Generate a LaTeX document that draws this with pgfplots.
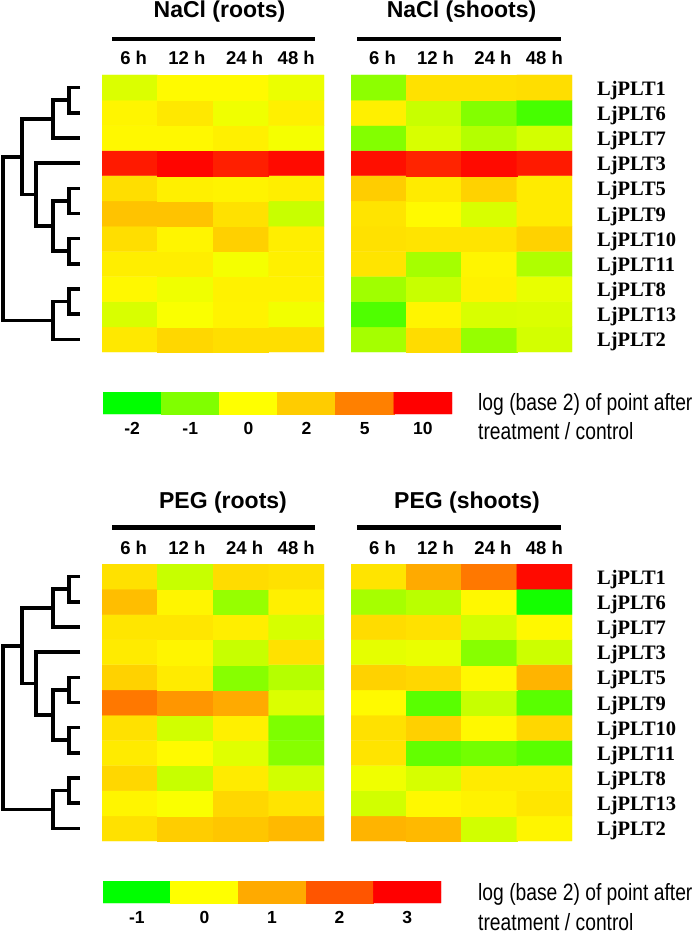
\documentclass[border=0pt]{standalone}
\usepackage{fontspec}
\setmainfont{Liberation Sans}
\newfontfamily\timesfont{Liberation Serif}
\usepackage{graphicx}
\usepackage{pgfplots}
\pgfplotsset{compat=1.18}

\newcommand{\titlefont}{\fontsize{23}{26}\selectfont\bfseries}
\newcommand{\timefont}{\fontsize{18.5}{21}\selectfont\bfseries}
\newcommand{\genefont}{\fontsize{20.5}{23}\selectfont\timesfont\bfseries}
\newcommand{\cbfont}{\fontsize{17.5}{19}\selectfont\bfseries}
\newcommand{\legfont}{\fontsize{23.5}{26}\selectfont}

\pgfplotsset{
  colormap={nacl}{rgb255(0pt)=(0,255,0) rgb255(1pt)=(128,255,0) rgb255(2pt)=(255,255,0) rgb255(4pt)=(255,204,0) rgb255(7pt)=(255,128,0) rgb255(12pt)=(255,0,0)},
  colormap={peg}{rgb255(0pt)=(0,255,0) rgb255(1pt)=(255,255,0) rgb255(2pt)=(255,170,0) rgb255(3pt)=(255,85,0) rgb255(4pt)=(255,0,0)},
  heat/.style={
    scale only axis, height=277pt, anchor=north west,
    xmin=-0.5, xmax=3.5, ymin=-0.5, ymax=10.5,
    axis line style={draw=none}, major tick length=0pt,
    xtick={0.07,1.03,2.07,3.0}, xticklabels={6 h,12 h,24 h,48 h},
    xticklabel pos=upper,
    xticklabel style={anchor=base, yshift=10pt, inner sep=0pt, font=\timefont},
    ytick=\empty,
  },
  genes/.style={
    ytick={0,...,10},
    yticklabels={LjPLT2,LjPLT13,LjPLT8,LjPLT11,LjPLT10,LjPLT9,LjPLT5,LjPLT3,LjPLT7,LjPLT6,LjPLT1},
    yticklabel pos=right,
    yticklabel style={anchor=base west, xshift=25pt, yshift=-7.5pt, inner sep=0pt, font=\genefont},
  },
  nacl/.style={colormap name=nacl, point meta min=-2, point meta max=10},
  peg/.style={colormap name=peg, point meta min=-1, point meta max=3},
  dendro/.style={
    scale only axis, anchor=north west, width=80pt, height=277pt,
    xmin=0, xmax=80, ymin=-277.2, ymax=0, hide axis, clip=false,
  },
  cbar/.style={
    scale only axis, anchor=north west, height=22pt,
    ymin=-0.5, ymax=1.5, ytick=\empty,
    axis line style={draw=none}, major tick length=0pt,
    xticklabel style={anchor=base, yshift=-20pt, inner sep=0pt, font=\cbfont},
  },
}

% dendrogram (same topology for both panels), x and y in px from the heatmap top
\newcommand{\dendrogram}{%
  \addplot[black, line width=3.6pt] coordinates {(80,-12.6) (69,-12.6) (69,-37.8) (80,-37.8)};
  \addplot[black, line width=3.6pt] coordinates {(69,-25.2) (53,-25.2) (53,-63) (80,-63)};
  \addplot[black, line width=3.6pt] coordinates {(80,-113.4) (69,-113.4) (69,-138.6) (80,-138.6)};
  \addplot[black, line width=3.6pt] coordinates {(80,-163.8) (69,-163.8) (69,-189) (80,-189)};
  \addplot[black, line width=3.6pt] coordinates {(69,-126) (53,-126) (53,-176.4) (69,-176.4)};
  \addplot[black, line width=3.6pt] coordinates {(80,-88.2) (36,-88.2) (36,-151.2) (53,-151.2)};
  \addplot[black, line width=3.6pt] coordinates {(53,-44.1) (22,-44.1) (22,-119.7) (36,-119.7)};
  \addplot[black, line width=3.6pt] coordinates {(80,-214.2) (69,-214.2) (69,-239.4) (80,-239.4)};
  \addplot[black, line width=3.6pt] coordinates {(69,-226.8) (53,-226.8) (53,-264.6) (80,-264.6)};
  \addplot[black, line width=3.6pt] coordinates {(22,-81.9) (3,-81.9) (3,-245.7) (53,-245.7)};
}

\begin{document}
\begin{tikzpicture}
\useasboundingbox (0,0) rectangle (699pt,-934pt);

% ================= NaCl =================
\node[anchor=base, font=\titlefont] at (219.5pt,-18pt) {NaCl (roots)};
\node[anchor=base, font=\titlefont] at (461.5pt,-18pt) {NaCl (shoots)};
\draw[line width=4.6pt] (112pt,-39pt) -- (315pt,-39pt);
\draw[line width=4.6pt] (357pt,-39pt) -- (561pt,-39pt);

\begin{axis}[dendro, at={(0pt,-75pt)}]
\dendrogram
\end{axis}

% rows: y=10 LjPLT1 (top) ... y=0 LjPLT2 (bottom); x: 0=6h 1=12h 2=24h 3=48h
\begin{axis}[heat, nacl, width=222pt, at={(102pt,-75pt)}]
\addplot[matrix plot*, mesh/cols=4, point meta=explicit] table[meta=c] {
x y c
0 0 0.90
1 0 1.57
2 0 1.29
3 0 1.29
0 1 -0.31
1 1 -0.04
2 1 0.47
3 1 -0.10
0 2 0.27
1 2 -0.12
2 2 0.51
3 2 0.51
0 3 0.67
1 3 0.67
2 3 -0.08
3 3 0.59
0 4 1.29
1 4 0.39
2 4 1.84
3 4 0.67
0 5 2.36
1 5 2.36
2 5 1.18
3 5 -0.43
0 6 1.29
1 6 0.59
2 6 0.47
3 6 0.67
0 7 9.0
1 7 9.8
2 7 8.8
3 7 9.6
0 8 0.27
1 8 0.27
2 8 0.59
3 8 -0.08
0 9 0.39
1 9 0.90
2 9 -0.12
3 9 0.59
0 10 -0.28
1 10 0.20
2 10 0.20
3 10 -0.16
};
\end{axis}

\begin{axis}[heat, nacl, genes, width=221pt, at={(351pt,-75pt)}]
\addplot[matrix plot*, mesh/cols=4, point meta=explicit] table[meta=c] {
x y c
0 0 -0.71
1 0 1.37
2 0 -0.83
3 0 -0.35
0 1 -1.38
1 1 0.39
2 1 -0.31
3 1 -0.28
0 2 -0.75
1 2 -0.43
2 2 0.51
3 2 -0.18
0 3 1.06
1 3 -0.71
2 3 0.39
3 3 -0.63
0 4 1.18
1 4 1.06
2 4 1.06
3 4 1.76
0 5 1.06
1 5 0.20
2 5 -0.31
3 5 0.78
0 6 1.96
1 6 0.78
2 6 1.76
3 6 0.78
0 7 9.4
1 7 8.6
2 7 9.6
3 7 9.0
0 8 -0.98
1 8 -0.31
2 8 -0.59
3 8 -0.35
0 9 0.59
1 9 -0.43
2 9 -0.98
3 9 -1.45
0 10 -0.90
1 10 1.18
2 10 1.18
3 10 1.29
};
\end{axis}

\begin{axis}[cbar, nacl, width=349pt, at={(103pt,-392pt)},
  xmin=-0.5, xmax=5.5, xtick={0,...,5}, xticklabels={-2,-1,0,2,5,10}]
\addplot[matrix plot*, mesh/cols=6, point meta=explicit] table[meta=c] {
x y c
0 0 -2
1 0 -1
2 0 0
3 0 2
4 0 5
5 0 10
0 1 -2
1 1 -1
2 1 0
3 1 2
4 1 5
5 1 10
};
\end{axis}
\node[anchor=base west, inner sep=0pt] at (478pt,-410.7pt) {\legfont\scalebox{0.82}[1]{log (base 2) of point after}};
\node[anchor=base west, inner sep=0pt] at (478pt,-439.5pt) {\legfont\scalebox{0.82}[1]{treatment / control}};

% ================= PEG =================
\node[anchor=base, font=\titlefont] at (223pt,-508pt) {PEG (roots)};
\node[anchor=base, font=\titlefont] at (467pt,-508pt) {PEG (shoots)};
\draw[line width=4.6pt] (112pt,-527.3pt) -- (315pt,-527.3pt);
\draw[line width=4.6pt] (357pt,-527.3pt) -- (561pt,-527.3pt);

\begin{axis}[dendro, at={(0pt,-564pt)}]
\dendrogram
\end{axis}

\begin{axis}[heat, peg, width=222pt, at={(102pt,-564pt)}]
\addplot[matrix plot*, mesh/cols=4, point meta=explicit] table[meta=c] {
x y c
0 0 0.35
1 0 0.59
2 0 0.67
3 0 0.82
0 1 0.12
1 1 -0.02
2 1 0.47
3 1 0.32
0 2 0.47
1 2 -0.22
2 2 0.24
3 2 -0.18
0 3 0.24
1 3 0.06
2 3 -0.12
3 3 -0.47
0 4 0.35
1 4 -0.18
2 4 0.18
3 4 -0.51
0 5 1.59
1 5 1.24
2 5 1.00
3 5 -0.14
0 6 0.53
1 6 0.24
2 6 -0.47
3 6 -0.29
0 7 0.24
1 7 0.12
2 7 -0.22
3 7 0.35
0 8 0.29
1 8 0.29
2 8 0.20
3 8 -0.16
0 9 0.76
1 9 0.12
2 9 -0.41
3 9 0.18
0 10 0.35
1 10 -0.22
2 10 0.41
3 10 0.35
};
\end{axis}

\begin{axis}[heat, peg, genes, width=221pt, at={(351pt,-564pt)}]
\addplot[matrix plot*, mesh/cols=4, point meta=explicit] table[meta=c] {
x y c
0 0 0.88
1 0 0.82
2 0 -0.18
3 0 0.12
0 1 -0.18
1 1 0.08
2 1 0.15
3 1 0.29
0 2 -0.06
1 2 -0.16
2 2 0.24
3 2 0.24
0 3 0.32
1 3 -0.61
2 3 -0.55
3 3 -0.65
0 4 0.35
1 4 0.55
2 4 0.08
3 4 0.47
0 5 0.06
1 5 -0.65
2 5 -0.22
3 5 -0.65
0 6 0.53
1 6 0.47
2 6 0.08
3 6 0.88
0 7 -0.10
1 7 -0.08
2 7 -0.47
3 7 -0.20
0 8 0.41
1 8 0.35
2 8 -0.18
3 8 0.08
0 9 -0.35
1 9 -0.27
2 9 0.08
3 9 -0.92
0 10 0.32
1 10 1.00
2 10 1.59
3 10 2.88
};
\end{axis}

\begin{axis}[cbar, peg, width=338pt, at={(103pt,-881pt)},
  xmin=-0.5, xmax=4.5, xtick={0,...,4}, xticklabels={-1,0,1,2,3}]
\addplot[matrix plot*, mesh/cols=5, point meta=explicit] table[meta=c] {
x y c
0 0 -1
1 0 0
2 0 1
3 0 2
4 0 3
0 1 -1
1 1 0
2 1 1
3 1 2
4 1 3
};
\end{axis}
\node[anchor=base west, inner sep=0pt] at (478pt,-900.7pt) {\legfont\scalebox{0.82}[1]{log (base 2) of point after}};
\node[anchor=base west, inner sep=0pt] at (478pt,-930.7pt) {\legfont\scalebox{0.82}[1]{treatment / control}};
\end{tikzpicture}
\end{document}
